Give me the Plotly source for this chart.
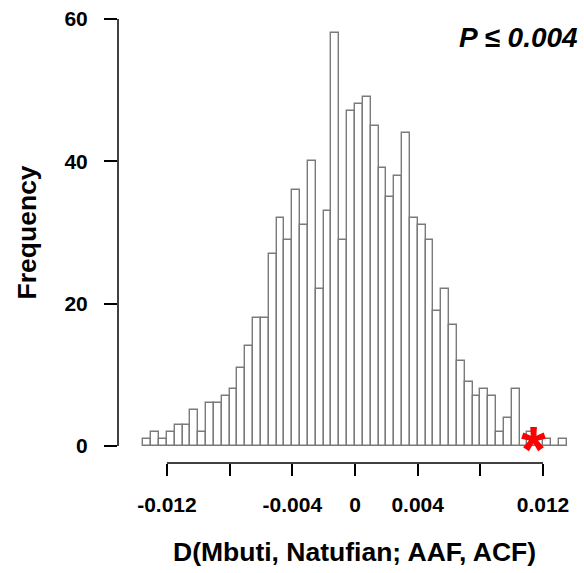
import plotly.graph_objects as go

# Histogram of D statistics (bins of width 0.0005 from -0.0135 to 0.0135)
bin_start = -0.0135
bin_width = 0.0005
counts = [1, 2, 1, 2, 3, 3, 5, 2, 6, 6,
          7, 8, 11, 14, 18, 18, 27, 32, 29, 36,
          31, 40, 22, 33, 58, 29, 47, 48, 49, 45,
          39, 35, 38, 44, 32, 31, 29, 19, 22, 17,
          12, 9, 7, 8, 7, 2, 4, 8, 0, 2,
          0, 1, 0, 1]
obs_D = 0.01136
obs_y = 1
x_ticks = [-0.012, -0.008, -0.004, 0, 0.004, 0.008, 0.012]
x_ticktext = ["-0.012", "", "-0.004", "0", "0.004", "", "0.012"]
y_ticks = [0, 20, 40, 60]
x_title = "D(Mbuti, Natufian; AAF, ACF)"
y_title = "Frequency"
p_text = "P ≤ 0.004"

centers = [bin_start + bin_width * (i + 0.5) for i in range(len(counts))]

FONT = "Liberation Sans, Arial, sans-serif"

fig = go.Figure()
fig.add_trace(go.Bar(
    x=centers, y=counts, width=bin_width,
    marker=dict(color="white", line=dict(color="#7a7a7a", width=1.4)),
    showlegend=False, hoverinfo="skip",
))

fig.update_layout(
    width=584, height=573,
    margin=dict(l=118, r=4, t=10, b=110),
    plot_bgcolor="white", paper_bgcolor="white",
    bargap=0,
    font=dict(family=FONT, color="black"),
    xaxis=dict(
        range=[-0.015124, 0.014359],
        tickvals=x_ticks, ticktext=x_ticktext,
        ticks="outside", ticklen=12, tickwidth=1.5, tickcolor="black",
        showline=False, showgrid=False, zeroline=False,
        tickfont=dict(family=FONT, size=21, color="black", weight="bold"),
        ticklabelstandoff=11,
    ),
    yaxis=dict(
        range=[-2.389, 61.26],
        tickvals=y_ticks,
        ticks="outside", ticklen=13, tickwidth=1.5, tickcolor="black",
        showline=False, showgrid=False, zeroline=False,
        tickfont=dict(family=FONT, size=21, color="black", weight="bold"),
        ticklabelstandoff=12,
    ),
    shapes=[
        dict(type="line", xref="x", yref="paper", x0=x_ticks[0], x1=x_ticks[-1],
             y0=0, y1=0, line=dict(color="black", width=1.5)),
        dict(type="line", xref="paper", yref="y", x0=0, x1=0,
             y0=y_ticks[0], y1=y_ticks[-1], line=dict(color="black", width=1.5)),
    ],
    annotations=[
        dict(text="<b>*</b>", xref="x", yref="y", x=obs_D, y=obs_y,
             xanchor="center", yanchor="middle", showarrow=False, yshift=-11,
             font=dict(family=FONT, size=64, color="red")),
        dict(text=f"<b>{x_title}</b>", xref="x", yref="paper", x=0, y=-0.197,
             xanchor="center", yanchor="middle", showarrow=False,
             font=dict(family=FONT, size=26.5, color="black")),
        dict(text=f"<b>{y_title}</b>", xref="paper", yref="paper", x=-0.197, y=0.509,
             xanchor="center", yanchor="middle", textangle=-90, showarrow=False,
             font=dict(family=FONT, size=26.5, color="black")),
        dict(text=f"<b><i>{p_text}</i></b>", xref="paper", yref="paper", x=1.0, y=0.94,
             xanchor="right", yanchor="middle", showarrow=False,
             font=dict(family=FONT, size=28, color="black")),
    ],
)

fig.write_html("out.html")
